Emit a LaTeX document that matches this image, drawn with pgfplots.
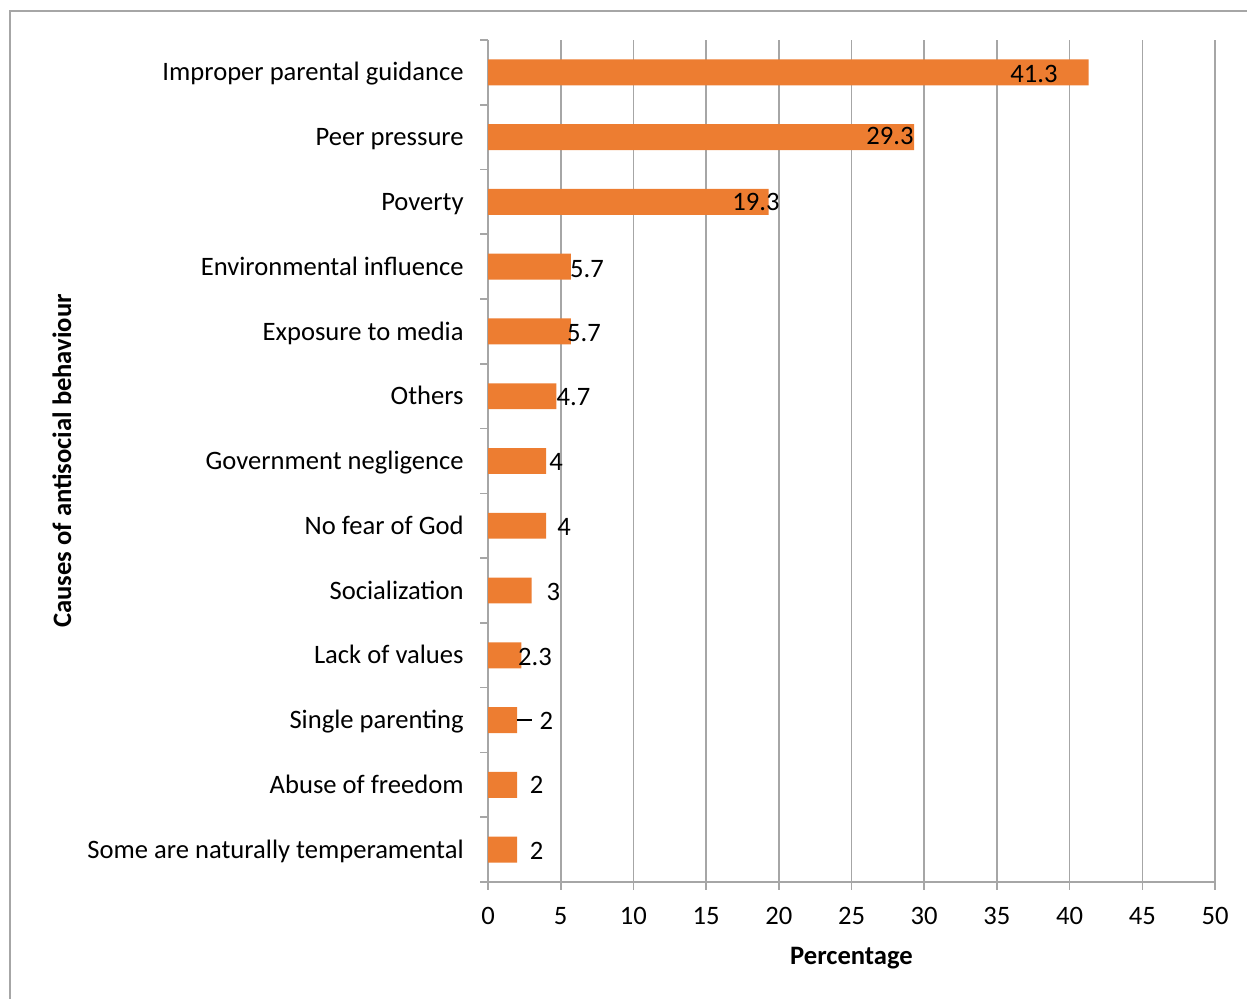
\documentclass[border=0pt]{standalone}
\usepackage{fontspec}
\setmainfont{Carlito}
\usepackage{pgfplots}
\pgfplotsset{compat=1.18}
\definecolor{barorange}{HTML}{ED7D31}
\definecolor{gridgray}{HTML}{A6A6A6}
\newcommand{\cf}{\fontsize{13.3pt}{16pt}\selectfont}
\begin{document}
\begin{tikzpicture}
\useasboundingbox (0,0) rectangle (623.5pt,499.5pt);
\draw[gridgray, line width=0.8pt] (5pt,-20pt) rectangle (650pt,494pt);
\begin{axis}[
  at={(244pt,58.5pt)}, anchor=south west,
  scale only axis, width=363.5pt, height=421pt,
  xmin=0, xmax=50, ymin=-0.5, ymax=12.5,
  xtick={0,5,...,50},
  ytick={0,...,12},
  yticklabels={Some are naturally temperamental, Abuse of freedom, Single parenting, Lack of values, Socialization, No fear of God, Government negligence, Others, Exposure to media, Environmental influence, Poverty, Peer pressure, Improper parental guidance},
  minor ytick={-0.5,0.5,...,12.5},
  axis x line*=bottom, axis y line*=left,
  axis line style={draw=gridgray, line width=0.8pt, -},
  tick align=outside,
  major tick length=4pt, minor tick length=4pt,
  xtick style={draw=gridgray, line width=0.8pt},
  major y tick style={draw=none},
  minor y tick style={draw=gridgray, line width=0.8pt},
  xmajorgrids=true,
  grid style={draw=gridgray, line width=0.8pt},
  /pgf/number format/assume math mode=true,
  ticklabel style={font=\cf},
  yticklabel style={inner sep=0pt, anchor=base east, yshift=-4.3pt},
  yticklabel shift=8pt,
  xticklabel style={inner sep=0pt, anchor=north},
  xticklabel shift=8.5pt,
  xlabel={\textbf{Percentage}},
  xlabel style={font=\cf, at={(axis description cs:0.5,-0.0903)}, anchor=center},
  ylabel={\textbf{Causes of antisocial behaviour}},
  ylabel style={font=\cf, at={(axis description cs:-0.586,0.5)}, anchor=center},
  clip=false,
]
\addplot[xbar, bar width=0.4, fill=barorange, draw=none] coordinates {
(2,0) (2,1) (2,2) (2.3,3) (3,4) (4,5) (4,6) (4.7,7) (5.7,8) (5.7,9) (19.3,10) (29.3,11) (41.3,12)};
\addplot[black, line width=0.6pt] coordinates {(2.0,2) (3.04,2)};
\addplot[only marks, mark=none, point meta=explicit symbolic,
  nodes near coords, nodes near coords align={center},
  every node near coord/.append style={font=\cf, inner sep=0pt, anchor=center, text=black}]
  table[meta=label] {
x y label
37.55 11.98 41.3
27.65 11.02 29.3
18.43 10 19.3
6.81 8.97 5.7
6.60 7.98 5.7
5.88 6.98 4.7
4.68 5.98 4
5.23 4.98 4
4.50 3.98 3
3.23 2.98 2.3
4.02 1.98 2
3.34 1.0 2
3.34 -0.02 2
};
\end{axis}
\end{tikzpicture}
\end{document}
